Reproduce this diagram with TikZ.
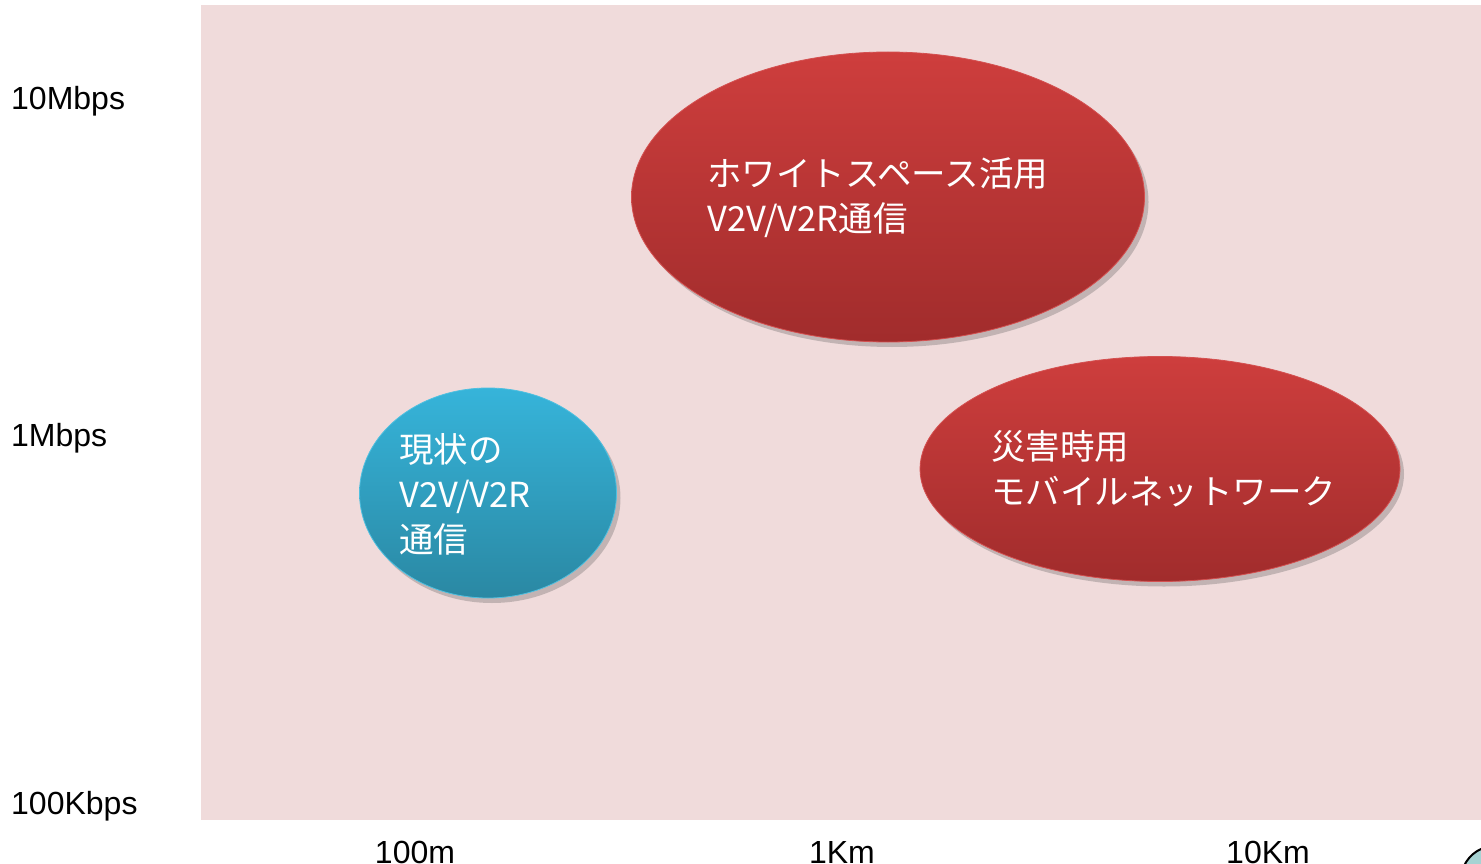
\documentclass[tikz,border=0pt]{standalone}
\usepackage{fontspec}
\setmainfont{Liberation Sans}
\newfontfamily\jpfont{Noto Sans CJK JP}
\usetikzlibrary{shapes.geometric,shadows}
\definecolor{bgpink}{HTML}{F0DBDB}
\definecolor{redtop}{HTML}{CE3E3D}
\definecolor{redbot}{HTML}{A12C2C}
\definecolor{redrim}{HTML}{D45050}
\definecolor{bluetop}{HTML}{36B4DA}
\definecolor{bluebot}{HTML}{2A88A3}
\definecolor{bluerim}{HTML}{4FC0E0}
\definecolor{cornerfill}{HTML}{A6D3D3}
\tikzset{
  blob/.style={ellipse, inner sep=0pt, line width=0.8pt,
    drop shadow={opacity=0.3, fill=gray!70!black, shadow xshift=4pt, shadow yshift=-5pt}},
  redblob/.style={blob, draw=redrim, top color=redtop, bottom color=redbot},
  blueblob/.style={blob, draw=bluerim, top color=bluetop, bottom color=bluebot},
  blobtext/.style={anchor=west, align=left, text=white, inner sep=0pt,
    font=\jpfont\fontsize{34.5}{45}\selectfont},
  axislabel/.style={inner sep=0pt, font=\fontsize{32}{34}\selectfont},
}
\begin{document}
\begin{tikzpicture}[x=1pt,y=-1pt]
\useasboundingbox (0,0) rectangle (1481,864);
\fill[bgpink] (201,5) rectangle (1481,820);
\begin{scope}
\clip (0,0) rectangle (1481,864);
\draw[line width=2pt, fill=cornerfill] (1495,880) circle (34);
\end{scope}
% ellipses
\node[redblob, minimum width=513pt, minimum height=290pt] (wsp) at (888,197) {};
\node[redblob, minimum width=480pt, minimum height=225pt] (dis) at (1160,469) {};
\node[blueblob, minimum width=257pt, minimum height=210pt] (cur) at (488,493) {};
% texts
\node[blobtext] (wspt) at (707,198) {ホワイトスペース活用\\V2V/V2R通信};
\node[blobtext] (dist) at (991,469) {災害時用\\モバイルネットワーク};
\node[blobtext] (curt) at (399,494) {現状の\\V2V/V2R\\通信};
% axis labels
\node[axislabel, anchor=base west] (y1) at (11,110) {10Mbps};
\node[axislabel, anchor=base west] (y2) at (11,446) {1Mbps};
\node[axislabel, anchor=base west] (y3) at (11,814) {100Kbps};
\node[axislabel, anchor=base] (x1) at (415,863) {100m};
\node[axislabel, anchor=base] (x2) at (842,863) {1Km};
\node[axislabel, anchor=base] (x3) at (1268,863) {10Km};
\end{tikzpicture}
\end{document}
